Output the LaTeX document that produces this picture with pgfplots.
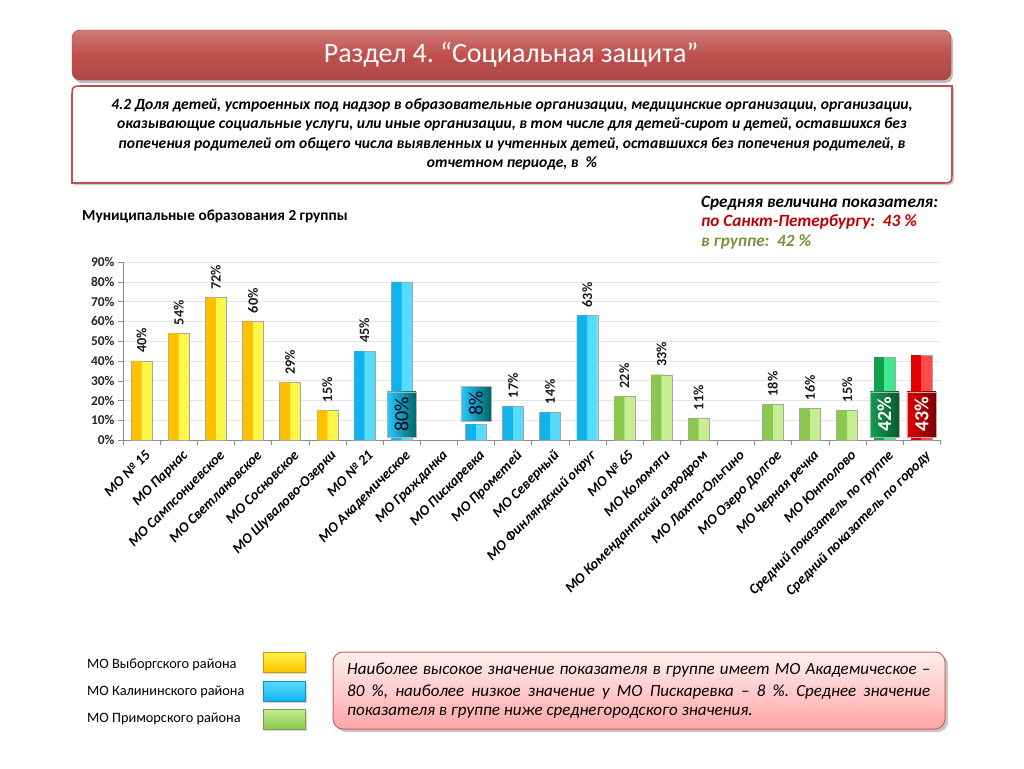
\documentclass[border=0pt]{standalone}
\usepackage{fontspec}
\setmainfont{Carlito}
\usepackage{pgfplots}
\usepackage{pgfplotstable}
\pgfplotsset{compat=1.18}
\usetikzlibrary{shadows}
\frenchspacing

\definecolor{ydark}{HTML}{FFC000}
\definecolor{ylight}{HTML}{FFF64A}
\definecolor{bdark}{HTML}{12B2EC}
\definecolor{blight}{HTML}{55DCFF}
\definecolor{gdark}{HTML}{8CC850}
\definecolor{glight}{HTML}{C8EE92}
\definecolor{adark}{HTML}{10A050}
\definecolor{alight}{HTML}{40E890}
\definecolor{rdark}{HTML}{E00000}
\definecolor{rlight}{HTML}{FF4A4A}
\definecolor{banner}{HTML}{C0504D}
\definecolor{redtxt}{HTML}{C00000}
\definecolor{greentxt}{HTML}{76923C}

% x = номер категории, y = доля, %
\pgfplotstableread{
x y
0 40
1 54
2 72
3 60
4 29
5 15
}\vyborg
\pgfplotstableread{
x y
6 45
10 17
11 14
12 63
}\kalinin
\pgfplotstableread{
x y
7 80
9 8
}\kalininbox
\pgfplotstableread{
x y
13 22
14 33
15 11
17 18
18 16
19 15
}\primor
\pgfplotstableread{
x y
20 42
}\avggroup
\pgfplotstableread{
x y
21 43
}\avgcity

\begin{document}
\begin{tikzpicture}
\useasboundingbox (0,0) rectangle (1024pt,-768pt);

\begin{scope}[x=1pt,y=-1pt]
% заголовок
\fill[black!25, rounded corners=8pt] (74,33) rectangle (953,83);
\draw[rounded corners=8pt, draw=banner!80!black, top color=banner!75!white, bottom color=banner!90!black, middle color=banner]
  (72,30) rectangle (951,80);
\node[white, font=\fontsize{28}{30}\selectfont] at (511,55) {Раздел 4. “Социальная защита”};

% рамка с формулировкой показателя
\fill[black!20] (74,185) -- (74,100) .. controls (74,88) .. (86,88) -- (954,88) -- (954,173) .. controls (954,185) .. (942,185) -- cycle;
\draw[fill=white, draw=banner, line width=1.6pt]
  (72,183) -- (72,98) .. controls (72,86) .. (84,86) -- (952,86) -- (952,171) .. controls (952,183) .. (940,183) -- cycle;
\node[align=center, font=\fontsize{15.6}{19.5}\selectfont\bfseries\itshape] at (512,134.5)
  {4.2 Доля детей, устроенных под надзор в образовательные организации, медицинские организации, организации,\\
   оказывающие социальные услуги, или иные организации, в том числе для детей-сирот и детей, оставшихся без\\
   попечения родителей от общего числа выявленных и учтенных детей, оставшихся без попечения родителей, в\\
   отчетном периоде, в~~\%};

\node[anchor=west, inner sep=0pt, font=\fontsize{15.3}{17}\selectfont\bfseries] at (82,216) {Муниципальные образования 2 группы};

\node[anchor=west, inner sep=0pt, font=\fontsize{17.2}{19}\selectfont\bfseries\itshape] at (701,203) {Средняя величина показателя:};
\node[anchor=west, inner sep=0pt, text=redtxt, font=\fontsize{17.2}{19}\selectfont\bfseries\itshape] at (701,222) {по Санкт-Петербургу:~~43 \%};
\node[anchor=west, inner sep=0pt, text=greentxt, font=\fontsize{17.2}{19}\selectfont\bfseries\itshape] at (701,242) {в группе:~~42 \%};

% легенда
\node[anchor=west, inner sep=0pt, font=\fontsize{14.3}{16}\selectfont] at (87,665) {МО Выборгского района};
\node[anchor=west, inner sep=0pt, font=\fontsize{14.3}{16}\selectfont] at (87,692) {МО Калининского района};
\node[anchor=west, inner sep=0pt, font=\fontsize{14.3}{16}\selectfont] at (87,719) {МО Приморского района};
\draw[draw=ydark!80!black, top color=ylight, bottom color=ydark, drop shadow={opacity=0.3}] (263,652) rectangle (305,672);
\draw[draw=bdark!80!black, top color=blight, bottom color=bdark, drop shadow={opacity=0.3}] (263,681) rectangle (305,701);
\draw[draw=gdark!80!black, top color=glight, bottom color=gdark, drop shadow={opacity=0.3}] (263,709) rectangle (305,729);

% вывод
\fill[black!22, rounded corners=10pt] (336,655) rectangle (948,732);
\draw[rounded corners=10pt, draw=banner!90!white, line width=1pt, top color=red!6, bottom color=red!35!white]
  (333,652) rectangle (945,729);
\begin{scope}[font=\fontsize{17}{19}\selectfont\itshape]
\node[anchor=west, inner sep=0pt] at (347,670) {\makebox[583pt][s]{Наиболее высокое значение показателя в группе имеет МО Академическое –}};
\node[anchor=west, inner sep=0pt] at (347,692) {\makebox[583pt][s]{80 \%, наиболее низкое значение у МО Пискаревка – 8 \%. Среднее значение}};
\node[anchor=west, inner sep=0pt] at (347,713) {показателя в группе ниже среднегородского значения.};
\end{scope}
\end{scope}

\begin{axis}[
    at={(123pt,-440pt)}, anchor=south west,
    scale only axis, width=817pt, height=178pt,
    xmin=-0.5, xmax=21.5, ymin=0, ymax=90,
    ybar, bar width=21pt, bar shift=0pt,
    clip=false,
    axis x line=bottom, axis y line=left,
    axis line style={-, draw=black!45},
    ytick={0,10,...,90},
    yticklabels={0\%,10\%,20\%,30\%,40\%,50\%,60\%,70\%,80\%,90\%},
    ymajorgrids, grid style={draw=black!10},
    major tick length=5pt, minor tick length=5pt,
    tick align=outside,
    ytick style={draw=black!45},
    xtick={0,...,21},
    xtick style={draw=none},
    minor xtick={-0.5,0.5,...,21.5},
    minor x tick style={draw=black!45},
    xticklabels={МО № 15, МО Парнас, МО Сампсониевское, МО Светлановское, МО Сосновское,
      МО Шувалово-Озерки, МО № 21, МО Академическое, МО Гражданка, МО Пискаревка,
      МО Прометей, МО Северный, МО Финляндский округ, МО № 65, МО Коломяги,
      МО Комендантский аэродром, МО Лахта-Ольгино, МО Озеро Долгое, МО Черная речка,
      МО Юнтолово, Средний показатель по группе, Средний показатель по городу},
    xticklabel style={rotate=45, anchor=north east, inner sep=1pt, yshift=-4pt,
      font=\fontsize{14.4}{16}\selectfont\bfseries\itshape},
    yticklabel style={font=\fontsize{13.4}{15}\selectfont\bfseries, text=black!85},
    /pgf/number format/assume math mode=true,
    nodes near coords={\pgfmathprintnumber{\pgfplotspointmeta}\%},
    every node near coord/.append style={rotate=90, anchor=west, inner xsep=8pt,
      font=\fontsize{14.2}{16}\selectfont\bfseries, text=black!90},
    light/.style={draw=black!35, fill=#1},
    dark/.style={draw=none, fill=#1, bar width=10pt, bar shift=-5pt, nodes near coords=},
]
% МО Выборгского района
\addplot[light=ylight] table {\vyborg};
\addplot[dark=ydark] table {\vyborg};
% МО Калининского района
\addplot[light=blight] table {\kalinin};
\addplot[dark=bdark] table {\kalinin};
\addplot[light=blight, nodes near coords=] table {\kalininbox};
\addplot[dark=bdark] table {\kalininbox};
% МО Приморского района
\addplot[light=glight] table {\primor};
\addplot[dark=gdark] table {\primor};
% средние
\addplot[light=alight, nodes near coords=] table {\avggroup};
\addplot[dark=adark] table {\avggroup};
\addplot[light=rlight, nodes near coords=] table {\avgcity};
\addplot[dark=rdark] table {\avgcity};

% подписи в рамках
\draw[draw=black!30, left color=cyan!75!blue!85, right color=cyan!40!black]
  ([xshift=-14.5pt]axis cs:7,1.5) rectangle ([xshift=14.5pt]axis cs:7,24.3);
\node[rotate=90, text=black!85!blue, font=\fontsize{20}{22}\selectfont] at (axis cs:7,12.9) {80\%};
\draw[draw=black!30, left color=cyan!75!blue!85, right color=cyan!40!black]
  ([xshift=-15pt]axis cs:9,9.6) rectangle ([xshift=15pt]axis cs:9,27.3);
\node[rotate=90, text=black!85!blue, font=\fontsize{20}{22}\selectfont] at (axis cs:9,18.5) {8\%};
\draw[draw=black!30, left color=adark, right color=adark!55!black]
  ([xshift=-14.5pt]axis cs:20,1.5) rectangle ([xshift=14.5pt]axis cs:20,24.3);
\node[rotate=90, text=white, font=\fontsize{20}{22}\selectfont\bfseries] at (axis cs:20,12.9) {42\%};
\draw[draw=black!30, left color=rdark, right color=rdark!55!black]
  ([xshift=-14.5pt]axis cs:21,1.5) rectangle ([xshift=14.5pt]axis cs:21,24.3);
\node[rotate=90, text=white, font=\fontsize{20}{22}\selectfont\bfseries] at (axis cs:21,12.9) {43\%};
\end{axis}
\end{tikzpicture}
\end{document}
